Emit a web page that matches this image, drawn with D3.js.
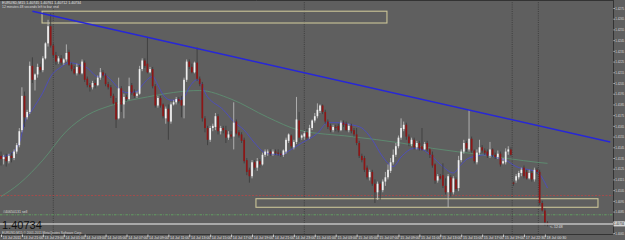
<!DOCTYPE html>
<html>
<head>
<meta charset="utf-8">
<script src="https://cdn.jsdelivr.net/npm/d3@7"></script>
<style>
  html, body { margin: 0; padding: 0; background: #5f5f5f; }
  svg { display: block; }
  text { font-family: 'Liberation Sans', Arial, sans-serif; }
</style>
</head>
<body>
<div id="chart"></div>
<script>
// EURUSD M15, one row per bar: [open, high, low, close]
const bars = [
  [1.4137,1.4141,1.4128,1.4134],[1.4134,1.4138,1.4129,1.4136],[1.4136,1.4139,1.4127,1.4132],
  [1.4132,1.4139,1.4130,1.4137],[1.4137,1.4140,1.4131,1.4135],[1.4135,1.4143,1.4133,1.4141],
  [1.4141,1.4149,1.4139,1.4147],[1.4147,1.4163,1.4145,1.4160],[1.4161,1.4201,1.4159,1.4193],
  [1.4193,1.4197,1.4164,1.4173],[1.4173,1.4180,1.4171,1.4178],[1.4178,1.4225,1.4176,1.4221],
  [1.4221,1.4229,1.4205,1.4208],[1.4208,1.4214,1.4198,1.4213],[1.4213,1.4223,1.4210,1.4220],
  [1.4220,1.4223,1.4215,1.4217],[1.4217,1.4230,1.4215,1.4228],[1.4228,1.4243,1.4227,1.4242],
  [1.4242,1.4264,1.4239,1.4258],[1.4258,1.4270,1.4238,1.4240],
  [1.4240,1.4242,1.4229,1.4231],[1.4231,1.4234,1.4222,1.4225],[1.4225,1.4230,1.4223,1.4228],
  [1.4228,1.4231,1.4222,1.4224],[1.4224,1.4228,1.4222,1.4227],[1.4227,1.4241,1.4225,1.4233],
  [1.4234,1.4236,1.4221,1.4222],[1.4222,1.4224,1.4216,1.4218],[1.4218,1.4221,1.4213,1.4214],
  [1.4214,1.4223,1.4212,1.4220],
  [1.4220,1.4222,1.4213,1.4214],[1.4214,1.4227,1.4213,1.4225],[1.4224,1.4226,1.4206,1.4208],
  [1.4209,1.4211,1.4201,1.4203],[1.4203,1.4205,1.4197,1.4201],[1.4201,1.4207,1.4199,1.4205],
  [1.4205,1.4208,1.4200,1.4203],[1.4203,1.4212,1.4202,1.4210],[1.4210,1.4219,1.4208,1.4215],
  [1.4215,1.4217,1.4210,1.4212],
  [1.4212,1.4214,1.4202,1.4204],[1.4204,1.4206,1.4199,1.4201],[1.4201,1.4203,1.4191,1.4193],
  [1.4193,1.4195,1.4185,1.4186],[1.4187,1.4191,1.4163,1.4171],[1.4172,1.4210,1.4171,1.4200],
  [1.4200,1.4202,1.4178,1.4185],[1.4185,1.4195,1.4172,1.4192],[1.4192,1.4194,1.4188,1.4190],
  [1.4190,1.4210,1.4189,1.4202],
  [1.4203,1.4205,1.4194,1.4196],[1.4196,1.4199,1.4191,1.4193],[1.4193,1.4197,1.4191,1.4195],
  [1.4195,1.4221,1.4194,1.4218],[1.4218,1.4228,1.4216,1.4226],[1.4226,1.4228,1.4219,1.4221],
  [1.4223,1.4248,1.4214,1.4215],[1.4215,1.4220,1.4214,1.4218],[1.4218,1.4220,1.4200,1.4202],
  [1.4202,1.4204,1.4182,1.4184],
  [1.4184,1.4193,1.4182,1.4191],[1.4191,1.4193,1.4182,1.4184],[1.4185,1.4186,1.4172,1.4174],
  [1.4172,1.4183,1.4167,1.4181],[1.4181,1.4185,1.4152,1.4169],[1.4169,1.4187,1.4167,1.4185],
  [1.4185,1.4189,1.4184,1.4187],[1.4187,1.4192,1.4185,1.4190],[1.4190,1.4192,1.4186,1.4188],
  [1.4189,1.4193,1.4173,1.4184],
  [1.4184,1.4210,1.4172,1.4208],[1.4208,1.4227,1.4206,1.4225],[1.4225,1.4227,1.4218,1.4220],
  [1.4220,1.4223,1.4214,1.4215],[1.4215,1.4225,1.4214,1.4224],[1.4224,1.4238,1.4207,1.4209],
  [1.4209,1.4211,1.4202,1.4204],[1.4204,1.4206,1.4169,1.4172],[1.4172,1.4174,1.4159,1.4163],
  [1.4163,1.4165,1.4147,1.4152],
  [1.4152,1.4165,1.4150,1.4163],[1.4163,1.4167,1.4160,1.4165],[1.4164,1.4177,1.4161,1.4174],
  [1.4174,1.4176,1.4157,1.4160],[1.4160,1.4165,1.4157,1.4163],[1.4163,1.4165,1.4158,1.4161],
  [1.4161,1.4165,1.4149,1.4154],[1.4154,1.4160,1.4152,1.4157],[1.4157,1.4160,1.4153,1.4155],
  [1.4155,1.4187,1.4143,1.4168],
  [1.4169,1.4171,1.4157,1.4158],[1.4159,1.4161,1.4154,1.4156],[1.4157,1.4159,1.4149,1.4151],
  [1.4152,1.4154,1.4130,1.4132],[1.4133,1.4135,1.4119,1.4122],[1.4124,1.4126,1.4112,1.4118],
  [1.4118,1.4133,1.4116,1.4131],[1.4131,1.4133,1.4124,1.4126],[1.4126,1.4135,1.4123,1.4132],
  [1.4132,1.4134,1.4126,1.4129],
  [1.4129,1.4140,1.4128,1.4138],[1.4138,1.4143,1.4136,1.4141],[1.4140,1.4143,1.4137,1.4141],
  [1.4141,1.4143,1.4137,1.4139],[1.4139,1.4143,1.4137,1.4141],[1.4141,1.4143,1.4138,1.4140],
  [1.4140,1.4143,1.4137,1.4139],[1.4139,1.4142,1.4136,1.4138],[1.4138,1.4143,1.4136,1.4142],
  [1.4141,1.4154,1.4139,1.4152],
  [1.4151,1.4158,1.4149,1.4157],[1.4156,1.4157,1.4144,1.4146],[1.4145,1.4152,1.4143,1.4150],
  [1.4150,1.4192,1.4148,1.4171],[1.4170,1.4178,1.4150,1.4154],[1.4154,1.4157,1.4152,1.4156],
  [1.4155,1.4160,1.4152,1.4158],[1.4159,1.4162,1.4152,1.4154],[1.4155,1.4166,1.4153,1.4163],
  [1.4163,1.4171,1.4161,1.4170],
  [1.4170,1.4177,1.4168,1.4174],[1.4174,1.4186,1.4172,1.4180],[1.4179,1.4185,1.4177,1.4184],
  [1.4184,1.4185,1.4176,1.4178],[1.4178,1.4180,1.4167,1.4169],[1.4169,1.4171,1.4162,1.4164],
  [1.4165,1.4167,1.4159,1.4161],[1.4161,1.4166,1.4159,1.4164],[1.4164,1.4166,1.4160,1.4163],
  [1.4165,1.4167,1.4159,1.4161],
  [1.4161,1.4170,1.4160,1.4168],[1.4168,1.4170,1.4164,1.4166],[1.4167,1.4169,1.4160,1.4161],
  [1.4161,1.4167,1.4159,1.4165],[1.4165,1.4167,1.4158,1.4160],[1.4161,1.4163,1.4155,1.4157],
  [1.4157,1.4163,1.4147,1.4149],[1.4149,1.4151,1.4135,1.4137],[1.4137,1.4139,1.4131,1.4133],
  [1.4135,1.4137,1.4122,1.4124],
  [1.4126,1.4128,1.4115,1.4117],[1.4117,1.4124,1.4114,1.4122],[1.4122,1.4124,1.4109,1.4111],
  [1.4111,1.4115,1.4093,1.4103],[1.4103,1.4113,1.4096,1.4111],[1.4111,1.4113,1.4096,1.4105],
  [1.4105,1.4115,1.4103,1.4113],[1.4113,1.4122,1.4109,1.4117],[1.4117,1.4129,1.4115,1.4124],
  [1.4123,1.4135,1.4121,1.4131],
  [1.4131,1.4143,1.4129,1.4138],[1.4138,1.4149,1.4136,1.4146],[1.4146,1.4156,1.4144,1.4154],
  [1.4154,1.4172,1.4152,1.4163],[1.4162,1.4169,1.4160,1.4166],[1.4166,1.4168,1.4152,1.4155],
  [1.4155,1.4157,1.4146,1.4149],[1.4148,1.4154,1.4146,1.4152],[1.4152,1.4154,1.4143,1.4145],
  [1.4145,1.4151,1.4143,1.4149],
  [1.4149,1.4151,1.4142,1.4144],[1.4146,1.4163,1.4142,1.4143],[1.4143,1.4150,1.4143,1.4148],
  [1.4149,1.4151,1.4141,1.4143],[1.4143,1.4144,1.4135,1.4138],[1.4138,1.4141,1.4126,1.4128],
  [1.4129,1.4130,1.4111,1.4114],[1.4114,1.4120,1.4112,1.4118],[1.4118,1.4120,1.4115,1.4116],
  [1.4119,1.4130,1.4107,1.4109],
  [1.4109,1.4116,1.4101,1.4103],[1.4103,1.4120,1.4089,1.4118],[1.4117,1.4119,1.4099,1.4103],
  [1.4103,1.4118,1.4101,1.4116],[1.4115,1.4117,1.4104,1.4106],[1.4107,1.4137,1.4104,1.4133],
  [1.4133,1.4143,1.4131,1.4141],[1.4141,1.4152,1.4139,1.4149],[1.4149,1.4151,1.4141,1.4144],
  [1.4143,1.4180,1.4141,1.4153],
  [1.4153,1.4155,1.4140,1.4142],[1.4142,1.4143,1.4130,1.4132],[1.4131,1.4143,1.4129,1.4140],
  [1.4140,1.4152,1.4138,1.4145],[1.4145,1.4147,1.4140,1.4142],[1.4142,1.4144,1.4138,1.4140],
  [1.4141,1.4143,1.4135,1.4137],[1.4137,1.4150,1.4135,1.4143],[1.4143,1.4144,1.4136,1.4138],
  [1.4138,1.4140,1.4134,1.4136],
  [1.4136,1.4142,1.4134,1.4139],[1.4139,1.4141,1.4127,1.4129],[1.4130,1.4135,1.4129,1.4132],
  [1.4131,1.4144,1.4129,1.4141],[1.4141,1.4146,1.4138,1.4143],[1.4143,1.4145,1.4137,1.4138],
  [1.4112,1.4113,1.4109,1.4111],[1.4114,1.4120,1.4112,1.4118],[1.4117,1.4123,1.4115,1.4121],
  [1.4121,1.4126,1.4118,1.4124],
  [1.4126,1.4128,1.4116,1.4118],[1.4122,1.4124,1.4115,1.4116],[1.4116,1.4124,1.4115,1.4121],
  [1.4121,1.4123,1.4113,1.4115],[1.4115,1.4126,1.4113,1.4124],[1.4124,1.4126,1.4120,1.4122],
  [1.4122,1.4124,1.4091,1.4093],[1.4093,1.4095,1.4085,1.4086],[1.4086,1.4088,1.4072,1.4075],
  [1.40745,1.40761,1.40712,1.40734]
];

// moving averages, read at bar indexes
const fastIdx = [0,3,7,9,12,16,19,23,26,30,33,37,39,42,45,48,52,54,58,60,62,65,67,70,72,75,79,85,89,93,
  97,101,107,111,115,121,125,128,134,138,142,146,150,153,158,161,165,169,173,176,179,186,190,193,197,202,205,209];
const fastVals = [1.4136,1.4138,1.4149,1.4168,1.4180,1.4196,1.4211,1.4220,1.4224,1.4222,1.4219,1.4211,1.4213,
  1.4208,1.4200,1.4196,1.4197,1.4203,1.4211,1.4203,1.4194,1.4189,1.4189,1.4192,1.4201,1.4208,1.4192,1.4180,
  1.4169,1.4161,1.4149,1.4140,1.4138,1.4143,1.4149,1.4158,1.4168,1.4168,1.4166,1.4163,1.4152,1.4136,1.4127,
  1.4136,1.4144,1.4143,1.4136,1.4127,1.4121,1.4129,1.4135,1.4138,1.4135,1.4133,1.4127,1.4124,1.4122,1.4107];
const slowIdx = [0,7,16,25,33,42,56,76,88,102,114,134,153,165,184,205,209];
const slowVals = [1.4099,1.4111,1.4133,1.4160,1.4175,1.4184,1.4192,1.4198,1.4190,1.4173,1.4161,1.4155,
  1.4149,1.4144,1.4138,1.4131,1.4130];

// drawn objects
const trendIdx = [12, 233];
const trendVals = [1.4272, 1.4150];
const zoneIdx = [[15.7, 147.6], [97.5, 228.3]];
const zoneVals = [[1.4272, 1.4261], [1.4097, 1.4089]];
const stopLevel = 1.4100;
const orderLevel = 1.4082;
const bid = 1.40734;
const separators = [20, 116, 195.5, 205.5];

const priceTicks = [1.4065,1.4075,1.4085,1.4095,1.4105,1.4115,1.4125,1.4135,1.4145,1.4155,1.4165,
  1.4175,1.4185,1.4195,1.4205,1.4215,1.4225,1.4235,1.4245,1.4255,1.4265,1.4275];
const timeIdx = [0,8,16,24,32,40,48,56,64,72,80,88,96,104,112,120,128,136,144,152,160,168,176,184,192,200,208];
const timeLabels = ['13 Jul 2011','13 Jul 21:00','13 Jul 23:00','14 Jul 01:00','14 Jul 03:00','14 Jul 05:00',
  '14 Jul 07:00','14 Jul 09:00','14 Jul 11:00','14 Jul 13:00','14 Jul 15:00','14 Jul 17:00','14 Jul 19:00',
  '14 Jul 21:00','14 Jul 23:00','15 Jul 01:00','15 Jul 03:00','15 Jul 05:00','15 Jul 07:00','15 Jul 09:00',
  '15 Jul 11:00','15 Jul 13:00','15 Jul 15:00','15 Jul 17:00','15 Jul 19:00','17 Jul 22:30','18 Jul 00:30'];

const W = 625, H = 240;
const plotRight = 613, plotBottom = 234;

const x = d3.scaleLinear().domain([0, 209]).range([1, 547.5]);
const y = d3.scaleLinear().domain([1.4065, 1.4275]).range([233, 8]);

const svg = d3.select('#chart').append('svg').attr('width', W).attr('height', H);
svg.append('rect').attr('width', W).attr('height', H).attr('fill', '#5f5f5f');

svg.append('defs').append('clipPath').attr('id', 'plot')
  .append('rect').attr('width', plotRight).attr('height', plotBottom);
const plot = svg.append('g').attr('clip-path', 'url(#plot)');

// day separators
plot.append('g').selectAll('line').data(separators).join('line')
  .attr('x1', d => x(d)).attr('x2', d => x(d))
  .attr('y1', 0).attr('y2', plotBottom)
  .attr('stroke', '#363636').attr('stroke-width', 0.8).attr('stroke-dasharray', '1,1.2');

// order levels
plot.append('line')
  .attr('x1', 0).attr('x2', plotRight).attr('y1', y(stopLevel)).attr('y2', y(stopLevel))
  .attr('stroke', '#a84a4a').attr('stroke-width', 0.9).attr('stroke-dasharray', '2,1.5');
plot.append('line')
  .attr('x1', 0).attr('x2', plotRight).attr('y1', y(orderLevel)).attr('y2', y(orderLevel))
  .attr('stroke', '#63a563').attr('stroke-width', 0.9).attr('stroke-dasharray', '2.5,1.2,0.8,1.2');
plot.append('text').attr('x', 3).attr('y', y(orderLevel) - 1.5)
  .attr('font-size', 3.6).attr('fill', '#d8d8d8').text('#40650131 sell');

// zones
plot.append('g').selectAll('rect').data(zoneIdx).join('rect')
  .attr('x', d => x(d[0])).attr('width', d => x(d[1]) - x(d[0]))
  .attr('y', (d, i) => y(zoneVals[i][0]))
  .attr('height', (d, i) => y(zoneVals[i][1]) - y(zoneVals[i][0]))
  .attr('fill', 'none').attr('stroke', '#cbc597').attr('stroke-width', 1.1);

// moving averages
const maLine = d3.line().x(d => x(d[0])).y(d => y(d[1])).curve(d3.curveMonotoneX);
plot.append('path').datum(d3.zip(slowIdx, slowVals))
  .attr('d', maLine).attr('fill', 'none').attr('stroke', '#5d9474').attr('stroke-width', 0.8);
plot.append('path').datum(d3.zip(fastIdx, fastVals))
  .attr('d', maLine).attr('fill', 'none').attr('stroke', '#4a4ad0').attr('stroke-width', 0.8);

// candles
const bw = 1.7;
const candle = plot.append('g').selectAll('g').data(bars).join('g');
candle.append('line')
  .attr('x1', (d, i) => x(i)).attr('x2', (d, i) => x(i))
  .attr('y1', d => y(d[1])).attr('y2', d => y(d[2]))
  .attr('stroke', d => d[3] >= d[0] ? '#c4c4c4' : '#3a3a3a').attr('stroke-width', 0.8);
candle.append('rect')
  .attr('x', (d, i) => x(i) - bw / 2).attr('width', bw)
  .attr('y', d => y(Math.max(d[0], d[3])))
  .attr('height', d => Math.max(0.7, Math.abs(y(d[0]) - y(d[3]))))
  .attr('fill', d => d[3] >= d[0] ? '#efefef' : '#8e1616');

// trend line
plot.append('line')
  .attr('x1', x(trendIdx[0])).attr('y1', y(trendVals[0]))
  .attr('x2', x(trendIdx[1])).attr('y2', y(trendVals[1]))
  .attr('stroke', '#2727d8').attr('stroke-width', 1.6);

// bid line
plot.append('line')
  .attr('x1', 0).attr('x2', plotRight).attr('y1', y(bid)).attr('y2', y(bid))
  .attr('stroke', '#c2c2c2').attr('stroke-width', 1.4);
plot.append('text').attr('x', x(209) + 2.5).attr('y', y(bid) + 4)
  .attr('font-size', 3.4).attr('fill', '#e0e0e0').text('<- 12:48');

// frame
svg.append('line').attr('x1', 0).attr('x2', plotRight).attr('y1', 0.5).attr('y2', 0.5).attr('stroke', '#333');
svg.append('line').attr('x1', 0).attr('x2', plotRight).attr('y1', plotBottom + 0.5).attr('y2', plotBottom + 0.5).attr('stroke', '#333');

// price axis (narrow strip, labels squeezed to fit)
const yAxis = svg.append('g').attr('transform', `translate(${plotRight + 0.5},0)`)
  .call(d3.axisRight(y).tickValues(priceTicks).tickFormat(d3.format('.4f')).tickSize(1.2).tickPadding(0.5));
yAxis.select('.domain').attr('stroke', '#333').attr('d', `M0,0V${plotBottom}`);
yAxis.selectAll('.tick line').attr('stroke', '#cfcfcf');
yAxis.selectAll('.tick text').attr('font-size', 3.6).attr('fill', '#dcdcdc')
  .attr('textLength', 9).attr('lengthAdjust', 'spacingAndGlyphs')
  .attr('font-family', "'Liberation Sans', Arial, sans-serif");

svg.append('rect').attr('x', plotRight + 0.5).attr('y', y(bid) - 2.6).attr('width', 11.5).attr('height', 5)
  .attr('fill', '#d6d6d6');
svg.append('text').attr('x', plotRight + 1).attr('y', y(bid) + 1.3)
  .attr('font-size', 3.4).attr('fill', '#222')
  .attr('textLength', 10).attr('lengthAdjust', 'spacingAndGlyphs')
  .text(d3.format('.5f')(bid));

// time axis
const xAxis = svg.append('g').attr('transform', `translate(0,${plotBottom + 0.5})`)
  .call(d3.axisBottom(x).tickValues(timeIdx).tickFormat((d, i) => timeLabels[i]).tickSize(2.5).tickPadding(0));
xAxis.select('.domain').remove();
xAxis.selectAll('.tick line').attr('stroke', '#cfcfcf');
xAxis.selectAll('.tick text').attr('font-size', 3.6).attr('fill', '#e2e2e2')
  .attr('text-anchor', 'start').attr('x', 1.2).attr('dy', 0).attr('y', 4.3)
  .attr('font-family', "'Liberation Sans', Arial, sans-serif");

// header and footer texts
svg.append('text').attr('x', 2).attr('y', 4.4).attr('font-size', 3.6).attr('fill', '#e4e4e4')
  .text('EURUSD,M15  1.40745 1.40761 1.40712 1.40734');
svg.append('text').attr('x', 2).attr('y', 8.4).attr('font-size', 3.4).attr('fill', '#dcdcdc')
  .text('12 minutes 48 seconds left to bar end');
svg.append('text').attr('x', 2).attr('y', 228.6).attr('font-size', 11).attr('fill', '#111')
  .text(d3.format('.5f')(bid));
svg.append('text').attr('x', 2).attr('y', 233.8).attr('font-size', 3.2).attr('fill', '#d8d8d8')
  .text('EURUSD,M15  \u00a9 2001-2011 MetaQuotes Software Corp.');
</script>
</body>
</html>
